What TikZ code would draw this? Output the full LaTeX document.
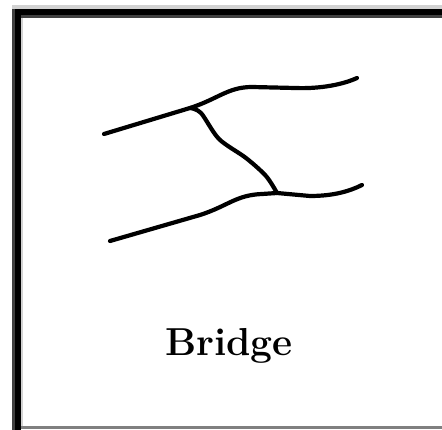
\documentclass[tikz,border=0pt]{standalone}
\usetikzlibrary{positioning}

\begin{document}
\begin{tikzpicture}[
  x=1pt, y=-1pt,
  road/.style={line width=4.2pt, line cap=round, line join=round, black},
  ttl/.style={font=\fontsize{39}{42}\selectfont\bfseries, inner sep=0pt, anchor=base},
]
\useasboundingbox (0,0) rectangle (442,430);

% ====== Frame ======
\fill[gray!35] (12,5) rectangle (442,9);
\fill[black!75] (12,9) rectangle (15,430);
\fill[black] (15,9) rectangle (442,15);
\fill[black] (15,9) rectangle (21,430);
\fill[black!75] (21,15) rectangle (442,18);
\fill[gray!35] (21,18) rectangle (23,426);
\fill[gray] (21,426) rectangle (442,429);

% ====== Two banks and the crossing ======
\coordinate (top) at (190,108);
\coordinate (bot) at (277,193);

\draw[road] (104,134) -- (top)
  .. controls (218,99) and (228,87) .. (252,87) -- (295,88)
  .. controls (322,89) and (344,84) .. (357,78);
\draw[road] (110,241) -- (200,215)
  .. controls (228,206) and (236,195) .. (262,194) -- (bot) -- (310,196)
  .. controls (334,196) and (350,191) .. (362,185);
\draw[road] plot[smooth, tension=0.5] coordinates
  {(top) (201,113) (219,139) (246,158) (266,176) (bot)};

% ====== Caption ======
\node[ttl] (cap) at (229,356) {Bridge};

\end{tikzpicture}
\end{document}
